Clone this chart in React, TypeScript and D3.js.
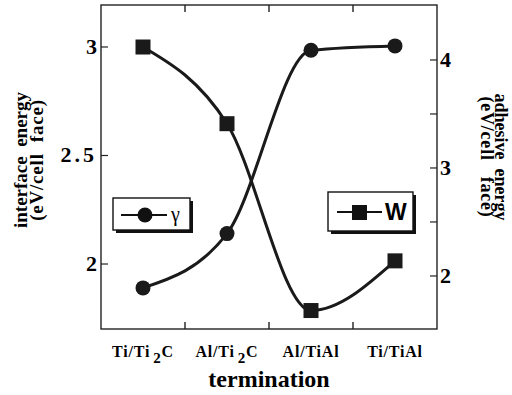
import React from 'react';
import * as d3 from 'd3';

// categories (x positions are category index + 0.5)
const categories = ['Ti/Ti2C', 'Al/Ti2C', 'Al/TiAl', 'Ti/TiAl'];
// interface energy gamma (left axis, circles)
const gammaValues = [1.89, 2.14, 2.985, 3.005];
// adhesive energy W (right axis, squares)
const wValues = [4.12, 3.41, 1.68, 2.14];
const leftTicks = [2, 2.5, 3];
const leftTickLabels = ['2', '2.5', '3'];
const rightTicks = [2, 2.5, 3, 3.5, 4];
const rightTickLabels = ['2', '', '3', '', '4'];

const serif = { fontFamily: "'Liberation Serif', 'DejaVu Serif', serif", fontWeight: 700 };

export default function App() {
  const width = 512;
  const height = 395;
  const box = { left: 101, right: 437, top: 5, bottom: 329 };

  const x = d3.scaleLinear().domain([0, 4]).range([box.left, box.right]);
  const yL = d3.scaleLinear().domain([1.7005, 3.1935]).range([box.bottom, box.top]);
  const yR = d3.scaleLinear().domain([1.509, 4.509]).range([box.bottom, box.top]);

  const gammaPts = gammaValues.map((v, i) => [x(i + 0.5), yL(v)] as [number, number]);
  const wPts = wValues.map((v, i) => [x(i + 0.5), yR(v)] as [number, number]);
  const line = d3.line().curve(d3.curveMonotoneX);

  const renderCat = (c: string) => {
    const m = c.match(/^(.*Ti)(2)(C)$/);
    if (!m) return c;
    return (
      <>
        {m[1]}
        <tspan dx={3} dy={6} fontSize={15}>{m[2]}</tspan>
        <tspan dy={-6}>{m[3]}</tspan>
      </>
    );
  };

  return (
    <svg width={width} height={height} style={{ position: 'absolute', left: 0, top: 0, background: '#fff' }}>
      {/* frame */}
      <rect x={box.left} y={box.top} width={box.right - box.left} height={box.bottom - box.top}
        fill="none" stroke="#222" strokeWidth={1.4} />

      {/* category boundary ticks, top and bottom */}
      {[1, 2, 3].map(t => (
        <g key={t}>
          <line x1={x(t)} x2={x(t)} y1={box.top} y2={box.top + 7} stroke="#222" strokeWidth={1.4} />
          <line x1={x(t)} x2={x(t)} y1={box.bottom} y2={box.bottom - 7} stroke="#222" strokeWidth={1.4} />
        </g>
      ))}

      {/* left axis */}
      {leftTicks.map((t, i) => (
        <g key={t}>
          <line x1={box.left} x2={box.left + 7} y1={yL(t)} y2={yL(t)} stroke="#222" strokeWidth={1.2} />
          <text x={box.left - 4} y={yL(t) + 7} textAnchor="end" style={serif}
            fontSize={22} letterSpacing={t === 2.5 ? 3 : 0}>{leftTickLabels[i]}</text>
        </g>
      ))}

      {/* right axis */}
      {rightTicks.map((t, i) => (
        <g key={t}>
          <line x1={box.right} x2={box.right - 7} y1={yR(t)} y2={yR(t)} stroke="#222" strokeWidth={1.2} />
          {rightTickLabels[i] && (
            <text x={box.right + 3} y={yR(t) + 7} style={serif} fontSize={22}>
              {rightTickLabels[i]}
            </text>
          )}
        </g>
      ))}

      {/* curves */}
      <path d={line(gammaPts) || ''} fill="none" stroke="#1a1a1a" strokeWidth={3} />
      <path d={line(wPts) || ''} fill="none" stroke="#1a1a1a" strokeWidth={3} />
      {gammaPts.map((p, i) => (
        <circle key={i} cx={p[0]} cy={p[1]} r={7.5} fill="#1a1a1a" />
      ))}
      {wPts.map((p, i) => (
        <rect key={i} x={p[0] - 7.5} y={p[1] - 7.5} width={15} height={15} fill="#1a1a1a" />
      ))}

      {/* legend gamma */}
      <rect x={116} y={201} width={77} height={32} fill="#111" />
      <rect x={113} y={198} width={77} height={32} fill="#fff" stroke="#111" strokeWidth={1.4} />
      <line x1={121} x2={167} y1={215} y2={215} stroke="#111" strokeWidth={2} />
      <circle cx={145} cy={215} r={7.5} fill="#111" />
      <text x={171} y={221} style={{ fontFamily: "'Liberation Serif', serif" }} fontSize={20}>γ</text>

      {/* legend W */}
      <rect x={331} y={195} width={85} height={39} fill="#111" />
      <rect x={328} y={192} width={85} height={39} fill="#fff" stroke="#111" strokeWidth={1.4} />
      <line x1={337} x2={382} y1={212} y2={212} stroke="#111" strokeWidth={2} />
      <rect x={352} y={205} width={15} height={15} fill="#111" />
      <text x={385} y={220} style={{ fontFamily: "'Liberation Sans', Arial, sans-serif", fontWeight: 700 }} fontSize={23}>W</text>

      {/* x labels */}
      {categories.map((c, i) => (
        <text key={c} x={x(i + 0.5)} y={357} textAnchor="middle" style={serif}
          fontSize={16} letterSpacing={0.8}>{renderCat(c)}</text>
      ))}
      <text x={269} y={387} textAnchor="middle" style={serif} fontSize={24}>termination</text>

      {/* left title */}
      <g transform="translate(0,160) rotate(-90)" style={serif} fontSize={19} textAnchor="middle">
        <text x={0} y={27} style={{ whiteSpace: 'pre' }}>interface  energy</text>
        <text x={0} y={43} style={{ whiteSpace: 'pre' }} letterSpacing={0.8}>(eV/cell  face)</text>
      </g>

      {/* right title */}
      <g transform="translate(509,157) rotate(90)" style={serif} fontSize={18} textAnchor="middle">
        <text x={0} y={14} style={{ whiteSpace: 'pre' }}>adhesive  energy</text>
        <text x={0} y={28} style={{ whiteSpace: 'pre' }} letterSpacing={0.8}>(eV/cell   face)</text>
      </g>
    </svg>
  );
}
